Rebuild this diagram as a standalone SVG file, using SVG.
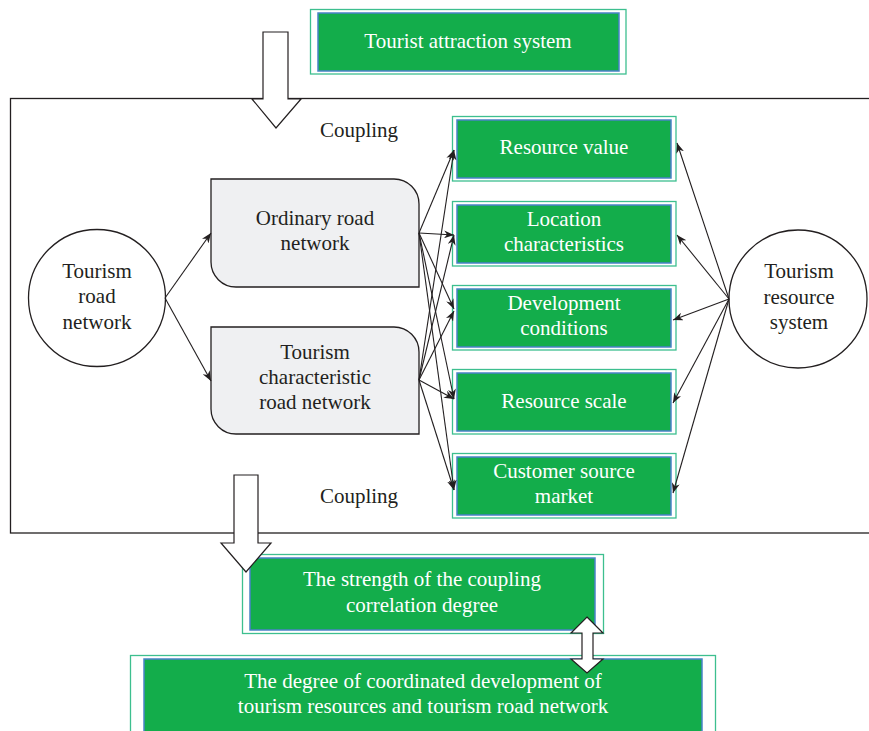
<svg xmlns="http://www.w3.org/2000/svg" width="869" height="731" viewBox="0 0 869 731">
<style>
text{font-family:"Liberation Serif","Times New Roman",serif;font-size:21px;text-anchor:middle}
.dk{fill:#231f20}
.wt{fill:#ffffff}
.outer{fill:#ffffff;stroke:#3dbf8f;stroke-width:1.3}
.inner{fill:#13ad4b;stroke:#4a82c8;stroke-width:1.5}
.rbox{fill:#eff0f2;stroke:#231f20;stroke-width:1.3}
.circ{fill:#ffffff;stroke:#231f20;stroke-width:1.3}
.con{stroke:#231f20;stroke-width:1.1;fill:none}
.big{fill:#ffffff;stroke:#231f20;stroke-width:1.2;stroke-linejoin:miter}
</style>
<defs>
<marker id="ah" viewBox="0 0 10 8" refX="10" refY="4" markerWidth="10" markerHeight="8" markerUnits="userSpaceOnUse" orient="auto">
<path d="M0,0 L10,4 L0,8 L3,4 z" fill="#231f20"/>
</marker>
</defs>
<rect x="10.5" y="98.5" width="870" height="434.5" fill="none" stroke="#231f20" stroke-width="1.3"/>
<g id="tourist-attraction">
<rect class="outer" x="310.5" y="9.5" width="315.5" height="64.5"/>
<rect class="inner" x="318" y="13" width="301" height="58"/>
<text class="wt" x="468" y="48">Tourist attraction system</text>
</g>
<g id="coupling-top"><text class="dk" x="359" y="137">Coupling</text></g>
<g id="coupling-bottom"><text class="dk" x="359" y="503">Coupling</text></g>
<g id="tourism-road-network">
<circle class="circ" cx="97" cy="298" r="68.5"/>
<text class="dk" x="97" y="278">Tourism</text>
<text class="dk" x="97" y="303">road</text>
<text class="dk" x="97" y="329">network</text>
</g>
<g id="ordinary-road-network">
<path class="rbox" d="M211,179 H394 A25,25 0 0 1 419,204 V287 H236 A25,25 0 0 1 211,262 Z"/>
<text class="dk" x="315" y="225">Ordinary road</text>
<text class="dk" x="315" y="250">network</text>
</g>
<g id="tourism-characteristic-road-network">
<path class="rbox" d="M211,327 H394 A25,25 0 0 1 419,352 V434 H236 A25,25 0 0 1 211,409 Z"/>
<text class="dk" x="315" y="359">Tourism</text>
<text class="dk" x="315" y="384">characteristic</text>
<text class="dk" x="315" y="409">road network</text>
</g>
<g id="resource-value">
<rect class="outer" x="452.5" y="116.5" width="223.5" height="64.5"/>
<rect class="inner" x="457" y="120" width="214" height="58"/>
<text class="wt" x="564" y="154">Resource value</text>
</g>
<g id="location-characteristics">
<rect class="outer" x="452.5" y="201.5" width="223.5" height="64.5"/>
<rect class="inner" x="457" y="205" width="214" height="58"/>
<text class="wt" x="564" y="226">Location</text>
<text class="wt" x="564" y="251">characteristics</text>
</g>
<g id="development-conditions">
<rect class="outer" x="452.5" y="285.5" width="223.5" height="64.5"/>
<rect class="inner" x="457" y="289" width="214" height="58"/>
<text class="wt" x="564" y="310">Development</text>
<text class="wt" x="564" y="335">conditions</text>
</g>
<g id="resource-scale">
<rect class="outer" x="452.5" y="369.5" width="223.5" height="64.5"/>
<rect class="inner" x="457" y="373" width="214" height="58"/>
<text class="wt" x="564" y="408">Resource scale</text>
</g>
<g id="customer-source-market">
<rect class="outer" x="452.5" y="453.5" width="223.5" height="64.5"/>
<rect class="inner" x="457" y="457" width="214" height="58"/>
<text class="wt" x="564" y="478">Customer source</text>
<text class="wt" x="564" y="503">market</text>
</g>
<g id="tourism-resource-system">
<circle class="circ" cx="798" cy="299" r="69"/>
<text class="dk" x="799" y="278">Tourism</text>
<text class="dk" x="799" y="304">resource</text>
<text class="dk" x="799" y="329">system</text>
</g>
<g id="coupling-strength">
<rect class="outer" x="242.5" y="554.5" width="361" height="79"/>
<rect class="inner" x="250" y="558" width="345" height="72"/>
<text class="wt" x="422" y="586">The strength of the coupling</text>
<text class="wt" x="422" y="612">correlation degree</text>
</g>
<g id="coordinated-development">
<rect class="outer" x="130.5" y="655.5" width="585" height="90"/>
<rect class="inner" x="144" y="659" width="558" height="90"/>
<text class="wt" x="423" y="688">The degree of coordinated development of</text>
<text class="wt" x="423" y="713">tourism resources and tourism road network</text>
</g>
<g id="connectors">
<line class="con" x1="165" y1="298" x2="211" y2="233" marker-end="url(#ah)"/>
<line class="con" x1="165" y1="298" x2="211" y2="381" marker-end="url(#ah)"/>
<line class="con" x1="419" y1="233" x2="454" y2="150" marker-end="url(#ah)"/>
<line class="con" x1="419" y1="233" x2="454" y2="235" marker-end="url(#ah)"/>
<line class="con" x1="419" y1="233" x2="454" y2="309" marker-end="url(#ah)"/>
<line class="con" x1="419" y1="233" x2="454" y2="399" marker-end="url(#ah)"/>
<line class="con" x1="419" y1="233" x2="454" y2="490" marker-end="url(#ah)"/>
<line class="con" x1="419" y1="380" x2="454" y2="150" marker-end="url(#ah)"/>
<line class="con" x1="419" y1="380" x2="454" y2="235" marker-end="url(#ah)"/>
<line class="con" x1="419" y1="380" x2="454" y2="311" marker-end="url(#ah)"/>
<line class="con" x1="419" y1="380" x2="454" y2="399" marker-end="url(#ah)"/>
<line class="con" x1="419" y1="380" x2="454" y2="490" marker-end="url(#ah)"/>
<line class="con" x1="729" y1="299" x2="677" y2="143" marker-end="url(#ah)"/>
<line class="con" x1="729" y1="299" x2="677" y2="235" marker-end="url(#ah)"/>
<line class="con" x1="729" y1="299" x2="673" y2="320" marker-end="url(#ah)"/>
<line class="con" x1="729" y1="299" x2="673" y2="403" marker-end="url(#ah)"/>
<line class="con" x1="729" y1="299" x2="673" y2="493" marker-end="url(#ah)"/>
<polygon class="big" points="263,32 288,32 288,99 301,99 276,128 252,99 263,99"/>
<polygon class="big" points="234,475 258,475 258,543 271,543 246,572 221,543 234,543"/>
<polygon class="big" points="587,617 603,633 593,633 593,659 603,659 587,673 571,659 582,659 582,633 571,633"/>
</g>
</svg>
